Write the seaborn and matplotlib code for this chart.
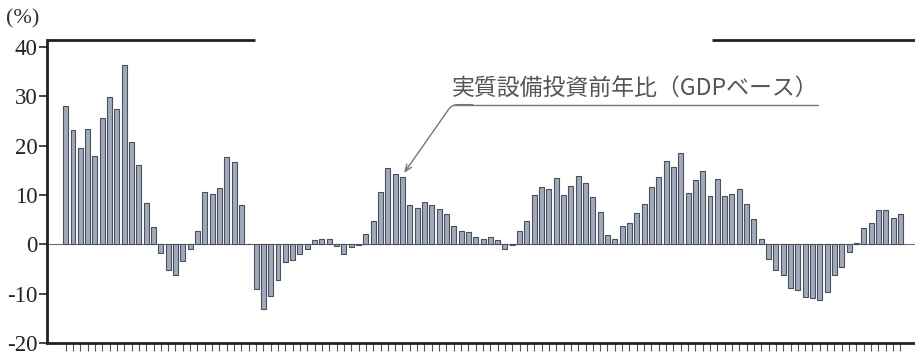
import matplotlib
matplotlib.use("Agg")
import matplotlib.pyplot as plt
import numpy as np
import pandas as pd
import seaborn as sns

capex_yoy = [
    28.0, 23.2, 19.6, 23.3, 17.8, 25.6, 29.9, 27.4, 36.3, 20.7,
    16.1, 8.4, 3.5, -1.8, -5.2, -6.2, -3.4, -1.0, 2.6, 10.6,
    10.1, 11.4, 17.7, 16.6, 7.9, 0.0, -9.1, -13.1, -10.4, -7.2,
    -3.5, -3.1, -2.0, -0.9, 0.8, 1.1, 1.0, -0.3, -1.9, -0.6,
    -0.2, 2.0, 4.8, 10.6, 15.5, 14.3, 13.6, 8.0, 7.4, 8.6,
    7.9, 7.1, 6.1, 3.8, 2.6, 2.4, 1.5, 1.1, 1.5, 0.8,
    -0.9, -0.2, 2.6, 4.8, 9.9, 11.7, 11.2, 13.4, 9.9, 11.9,
    13.8, 12.4, 9.5, 6.6, 1.8, 1.1, 3.8, 4.4, 6.4, 8.1,
    11.6, 13.7, 16.9, 15.6, 18.5, 10.4, 13.1, 14.9, 9.8, 13.3,
    9.8, 10.2, 11.2, 8.1, 5.1, 1.1, -2.9, -5.2, -6.2, -8.9,
    -9.2, -10.6, -10.8, -11.2, -9.6, -6.2, -4.5, -1.6, 0.3, 3.4,
    4.4, 7.0, 7.0, 5.4, 6.2,
]
y_ticks = [-20, -10, 0, 10, 20, 30, 40]
label = "実質設備投資前年比（GDPベース）"
arrow_bar = 46  # bar the leader line points to

sns.set_style("white")
plt.rcParams["font.family"] = ["Liberation Serif", "Noto Sans CJK JP"]
plt.rcParams["axes.unicode_minus"] = False

df = pd.DataFrame({"q": np.arange(len(capex_yoy)), "yoy": capex_yoy})

fig = plt.figure(figsize=(9.15, 3.55), dpi=100)
ax = fig.add_axes([47 / 915, 1 - 343 / 355, 868 / 915, 303 / 355])

sns.barplot(data=df, x="q", y="yoy", color="#a1a9bd", saturation=1,
            width=0.68, edgecolor="#4a4f5c", linewidth=0.8, ax=ax)

ax.set_xlim(-2.55, 116.0)
ax.set_ylim(-20, 41.4)
ax.axhline(0, color="#6f6f6f", lw=0.8, zorder=0)

ax.set_yticks(y_ticks)
ax.set_yticklabels([str(t) for t in y_ticks], fontsize=16.5, color="#222")
ax.set_xticks(np.arange(len(capex_yoy)))
ax.set_xticklabels([])
ax.tick_params(axis="y", direction="out", length=6, width=1.2, pad=1, left=True)
ax.tick_params(axis="x", direction="out", length=6, width=0.8, color="#555", bottom=True)
ax.set_xlabel("")
ax.set_ylabel("")

for s in ["top", "right"]:
    ax.spines[s].set_visible(False)
for s in ["left", "bottom"]:
    ax.spines[s].set_linewidth(2)
    ax.spines[s].set_color("#222")

# broken top frame
for x0, x1 in [(0, 208 / 868), (665 / 868, 1)]:
    ax.plot([x0, x1], [1, 1], transform=ax.transAxes, color="#222", lw=2,
            clip_on=False, solid_capstyle="butt")

# label with underline and leader
ax.text(77.8, 31.6, label, ha="center", va="center", fontsize=16.5,
        color="#555", family=["Noto Sans CJK JP"])
ax.plot([52.9, 102.8], [28.3, 28.3], color="#777", lw=1)
ax.annotate("", xy=(arrow_bar, 14.0), xytext=(56, 28.3),
            arrowprops=dict(arrowstyle="->,head_length=0.5,head_width=0.2",
                            color="#777", lw=1,
                            connectionstyle="angle,angleA=0,angleB=55,rad=6"))

fig.text(6 / 915, 1 - 19 / 355, "(%)", ha="left", va="center",
         fontsize=16, color="#333")

fig.savefig("out.png", dpi=100)
